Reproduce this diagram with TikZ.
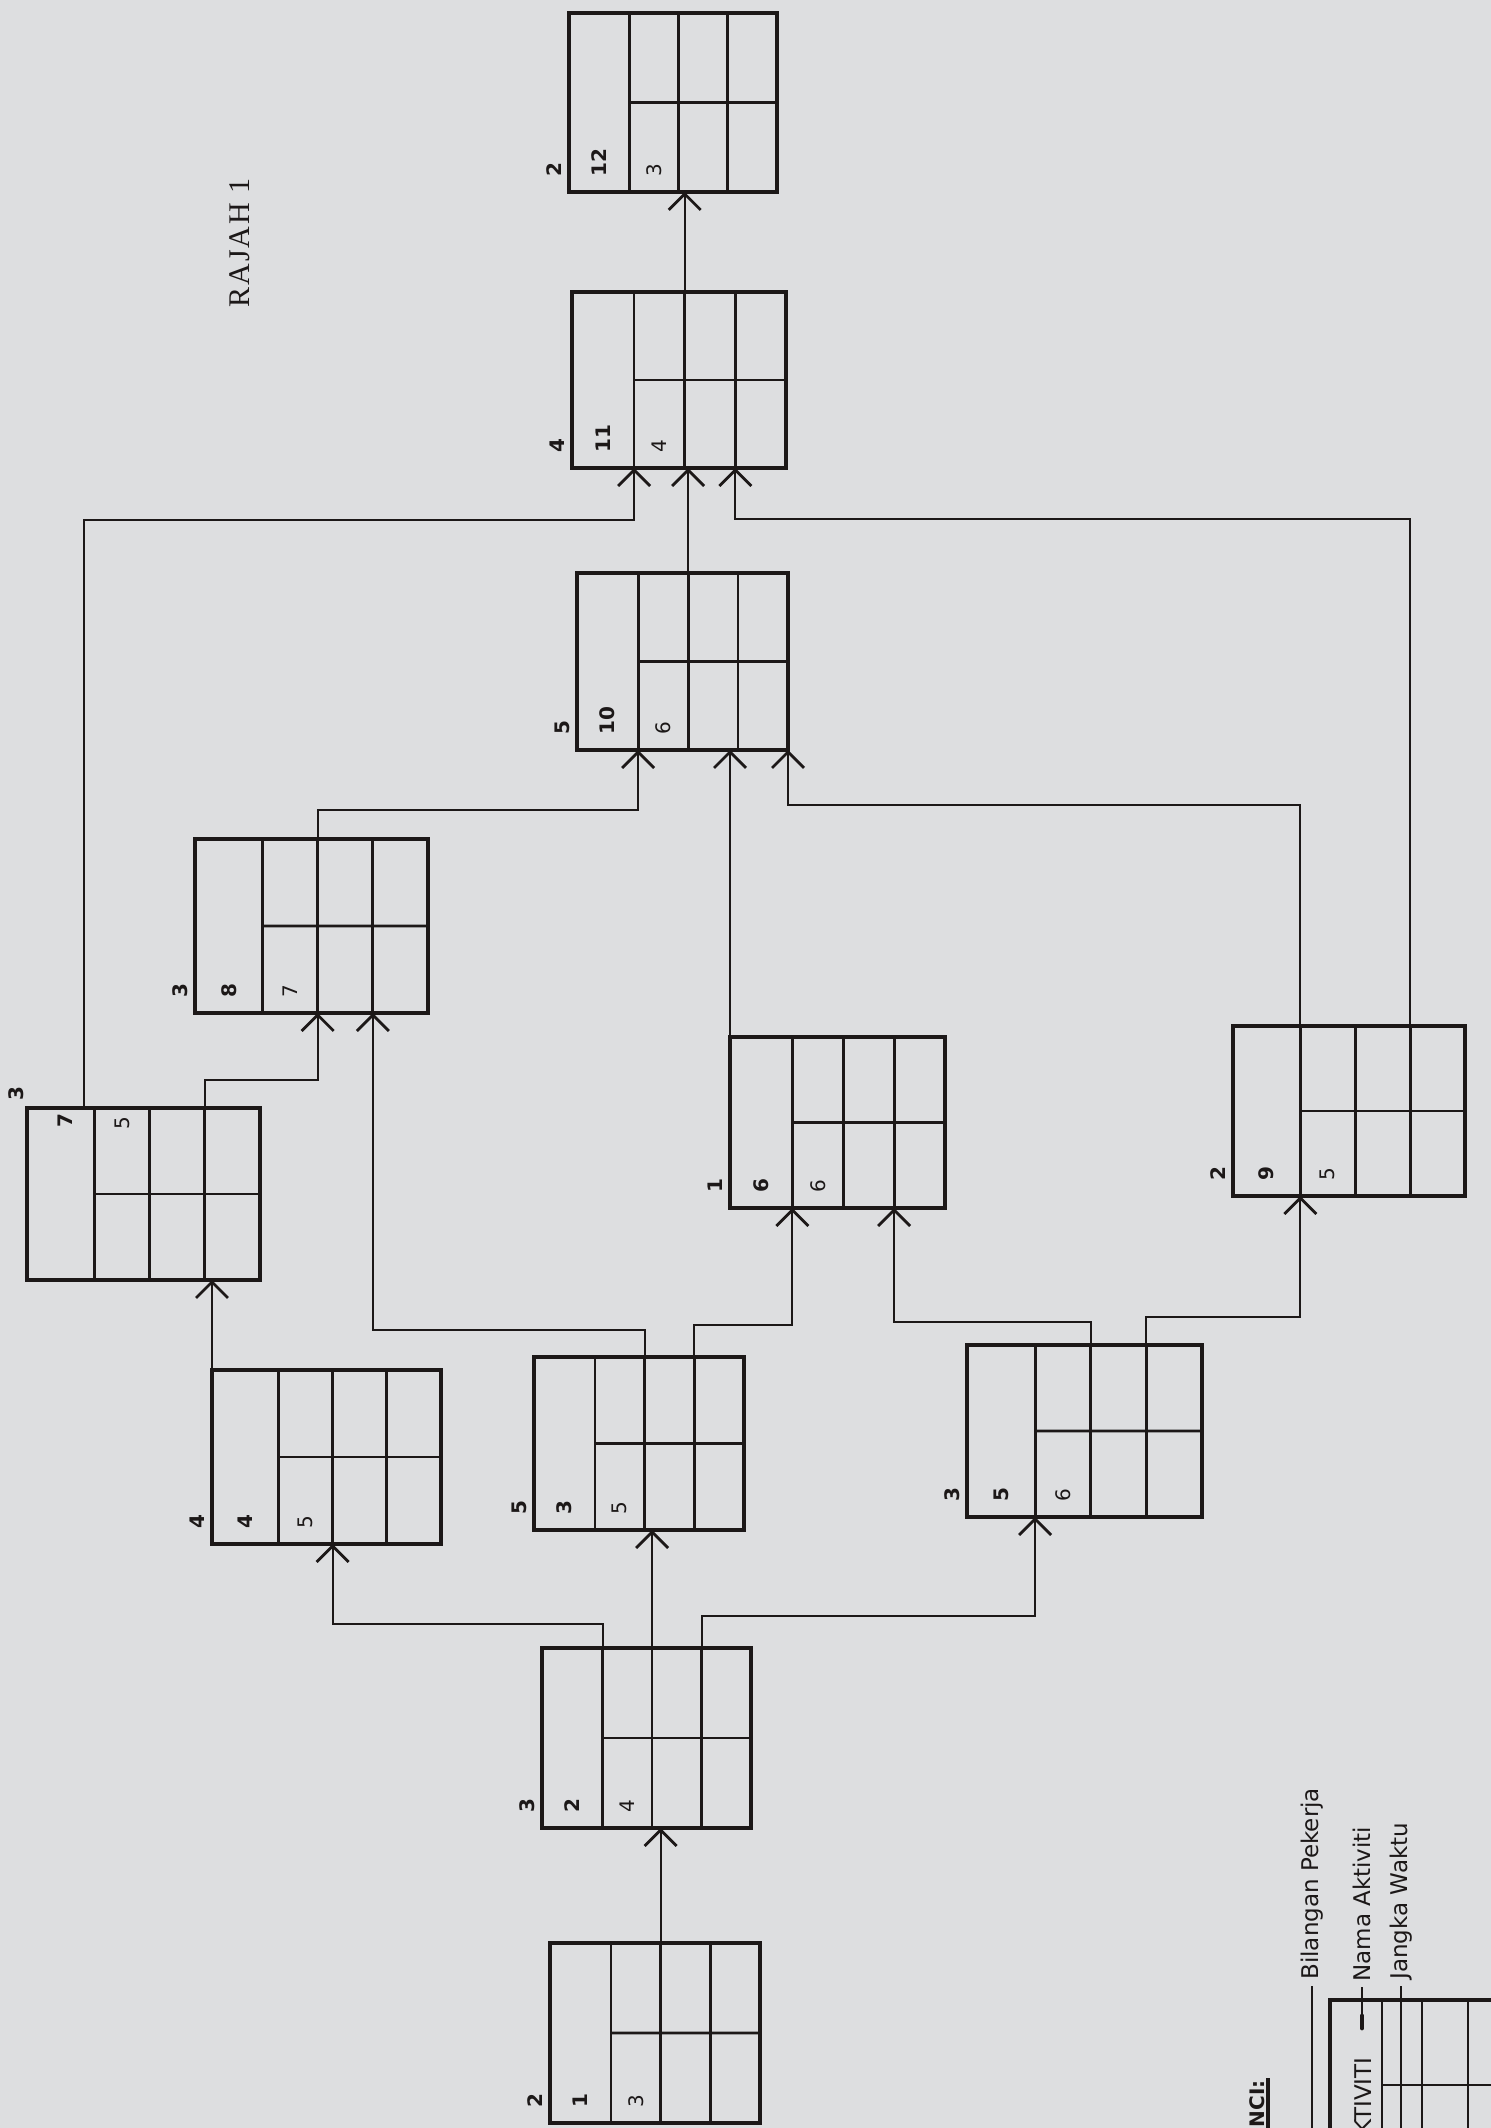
\documentclass[tikz,border=0pt]{standalone}
\usepackage{fontspec}
\newfontfamily\numfont{DejaVu Sans}
\newfontfamily\legfont{DejaVu Sans}
\newfontfamily\titlefont[LetterSpace=7]{Liberation Serif}
\usetikzlibrary{arrows.meta,calc}
\definecolor{bg}{RGB}{221,222,224}
\definecolor{ink}{RGB}{28,24,24}
\tikzset{
  abox/.style={draw=ink, line width=1.7pt, rectangle, inner sep=0pt, outer sep=0pt, anchor=north west},
  gridline/.style={draw=ink, line width=1.4pt},
  conn/.style={draw=ink, line width=1pt, -{Straight Barb[length=8pt,width=16pt,line width=1.4pt]}},
  lab/.style={rotate=90, anchor=west, inner sep=0pt, text=ink, font=\numfont\fontsize{10}{10}\selectfont},
  blab/.style={lab, font=\numfont\bfseries\fontsize{10}{10}\selectfont},
  legtext/.style={rotate=90, anchor=west, inner sep=0pt, text=ink, font=\legfont\fontsize{11.5}{12}\selectfont},
  lead/.style={draw=ink, line width=1pt},
  titletext/.style={rotate=90, inner sep=0pt, text=ink, font=\titlefont\fontsize{15}{16}\selectfont}
}
\newcommand{\actbox}[5]{%
  \pgfmathsetmacro\bw{#4*0.5}\pgfmathsetmacro\bh{#5*0.5}%
  \node[abox, minimum width=\bw pt, minimum height=\bh pt] (#1) at (#2,#3) {};
  \coordinate (#1-t1) at ($(#1.north west)!0.29!(#1.north east)$);
  \coordinate (#1-t2) at ($(#1.north west)!0.5267!(#1.north east)$);
  \coordinate (#1-t3) at ($(#1.north west)!0.7633!(#1.north east)$);
  \coordinate (#1-b1) at ($(#1.south west)!0.29!(#1.south east)$);
  \coordinate (#1-b2) at ($(#1.south west)!0.5267!(#1.south east)$);
  \coordinate (#1-b3) at ($(#1.south west)!0.7633!(#1.south east)$);
  \draw[gridline] (#1-t1) -- (#1-b1);
  \draw[gridline] (#1-t2) -- (#1-b2);
  \draw[gridline] (#1-t3) -- (#1-b3);
  \draw[gridline] ($(#1-t1)!0.5!(#1-b1)$) -- ($(#1.north east)!0.5!(#1.south east)$);
}
\newcommand{\actlabels}[4]{%
  \node[blab] (#1-w) at ($(#1.south west)+(-15,-15)$) {#2};
  \node[blab] (#1-a) at ($(#1.south west)!0.145!(#1.south east)+(0,-15)$) {#3};
  \node[lab] (#1-d) at ($(#1-b1)!0.5!(#1-b2)+(0,-15)$) {#4};
}
\begin{document}
\begin{tikzpicture}[x=0.5pt, y=-0.5pt]
\useasboundingbox (0,0) rectangle (1491,2128);
\clip (0,0) rectangle (1491,2128);
\fill[bg] (0,0) rectangle (1491,2128);

% title
\node[titletext] (rajah) at (240,243) {RAJAH 1};

% activity boxes
\actbox{b12}{569}{13}{208}{179}
\actbox{b11}{572}{292}{214}{176}
\actbox{b10}{577}{573}{211}{177}
\actbox{b8}{195}{839}{233}{174}
\actbox{b7}{27}{1108}{233}{172}
\actbox{b6}{730}{1037}{215}{171}
\actbox{b9}{1233}{1026}{232}{170}
\actbox{b4}{212}{1370}{229}{174}
\actbox{b3}{534}{1357}{210}{173}
\actbox{b5}{967}{1345}{235}{172}
\actbox{b2}{542}{1648}{209}{180}
\actbox{b1}{550}{1943}{210}{180}

\actlabels{b12}{2}{12}{3}
\actlabels{b11}{4}{11}{4}
\actlabels{b10}{5}{10}{6}
\actlabels{b8}{3}{8}{7}
\actlabels{b6}{1}{6}{6}
\actlabels{b9}{2}{9}{5}
\actlabels{b4}{4}{4}{5}
\actlabels{b3}{5}{3}{5}
\actlabels{b5}{3}{5}{6}
\actlabels{b2}{3}{2}{4}
\actlabels{b1}{2}{1}{3}
% box 7 labels (written at the top)
\node[blab, anchor=center] (b7-w) at (16,1094) {3};
\node[blab, anchor=center] (b7-a) at (65,1121) {7};
\node[lab, anchor=center] (b7-d) at (122,1123) {5};
\coordinate (b7-tx) at ($(b7.north west)!0.245!(b7.north east)$);

% connectors
\draw[conn] (b1-t2) -- (b1-t2 |- b2.south);
\draw[conn] (b2-t1) -- ++(0,-24) -| (b4-b2);
\draw[conn] (b2-t2) -- (b2-t2 |- b3.south);
\draw[conn] (b2-t3) -- ++(0,-32) -| (b5-b1);
\draw[conn] (b3-t2) -- ++(0,-27) -| (b8-b3);
\draw[conn] (b3-t3) -- ++(0,-32) -| (b6-b1);
\draw[conn] (b5-t2) -- ++(0,-23) -| (b6-b3);
\draw[conn] (b5-t3) -- ++(0,-28) -| (b9-b1);
\draw[conn] (b4.north west) -- (b4.north west |- b7.south);
\draw[conn] (b7-t3) -- ++(0,-28) -| (b8-b2);
\draw[conn] (b7-tx) -- ++(0,-588) -| (b11-b1);
\draw[conn] (b8-t2) -- ++(0,-29) -| (b10-b1);
\draw[conn] (b6.north west) -- (b6.north west |- b10.south);
\draw[conn] (b9-t1) -- ++(0,-221) -| (b10.south east);
\draw[conn] (b9-t3) -- ++(0,-507) -| (b11-b3);
\draw[conn] (b10-t2) -- (b10-t2 |- b11.south);
\draw[conn] (b11-t2) -- (b11-t2 |- b12.south);

% legend (KUNCI)
\node[abox, minimum width=105pt, minimum height=90pt] (key) at (1330,2000) {};
\coordinate (key-t1) at (1382,2000);
\coordinate (key-t2) at (1422,2000);
\coordinate (key-t3) at (1468,2000);
\draw[gridline] (key-t1) -- ++(0,180);
\draw[gridline] (key-t2) -- ++(0,180);
\draw[gridline] (key-t3) -- ++(0,180);
\draw[gridline] (1382,2085) -- (1540,2085);
\node[legtext] (kb) at (1312,1980) {Bilangan Pekerja};
\node[legtext] (kn) at (1362,1982) {Nama Aktiviti};
\node[legtext] (kj) at (1401,1980) {Jangka Waktu};
\draw[lead] (kb.west) ++(0,6) -- ++(0,160);
\draw[lead] (kn.west) ++(0,5) -- ++(0,30);
\draw[draw=ink, line width=2.4pt, line cap=round] (1362,2016) -- (1362,2028);
\draw[lead] (kj.west) ++(0,6) -- ++(0,160);
\node[legtext, anchor=east] (kt) at (1363,2057) {AKTIVITI};
\node[legtext, anchor=east, font=\legfont\bfseries\fontsize{10}{11}\selectfont] (kk) at (1257,2080) {KUNCI:};
\draw[draw=ink, line width=1.6pt] (1268,2078) -- (1268,2140);
\end{tikzpicture}
\end{document}
